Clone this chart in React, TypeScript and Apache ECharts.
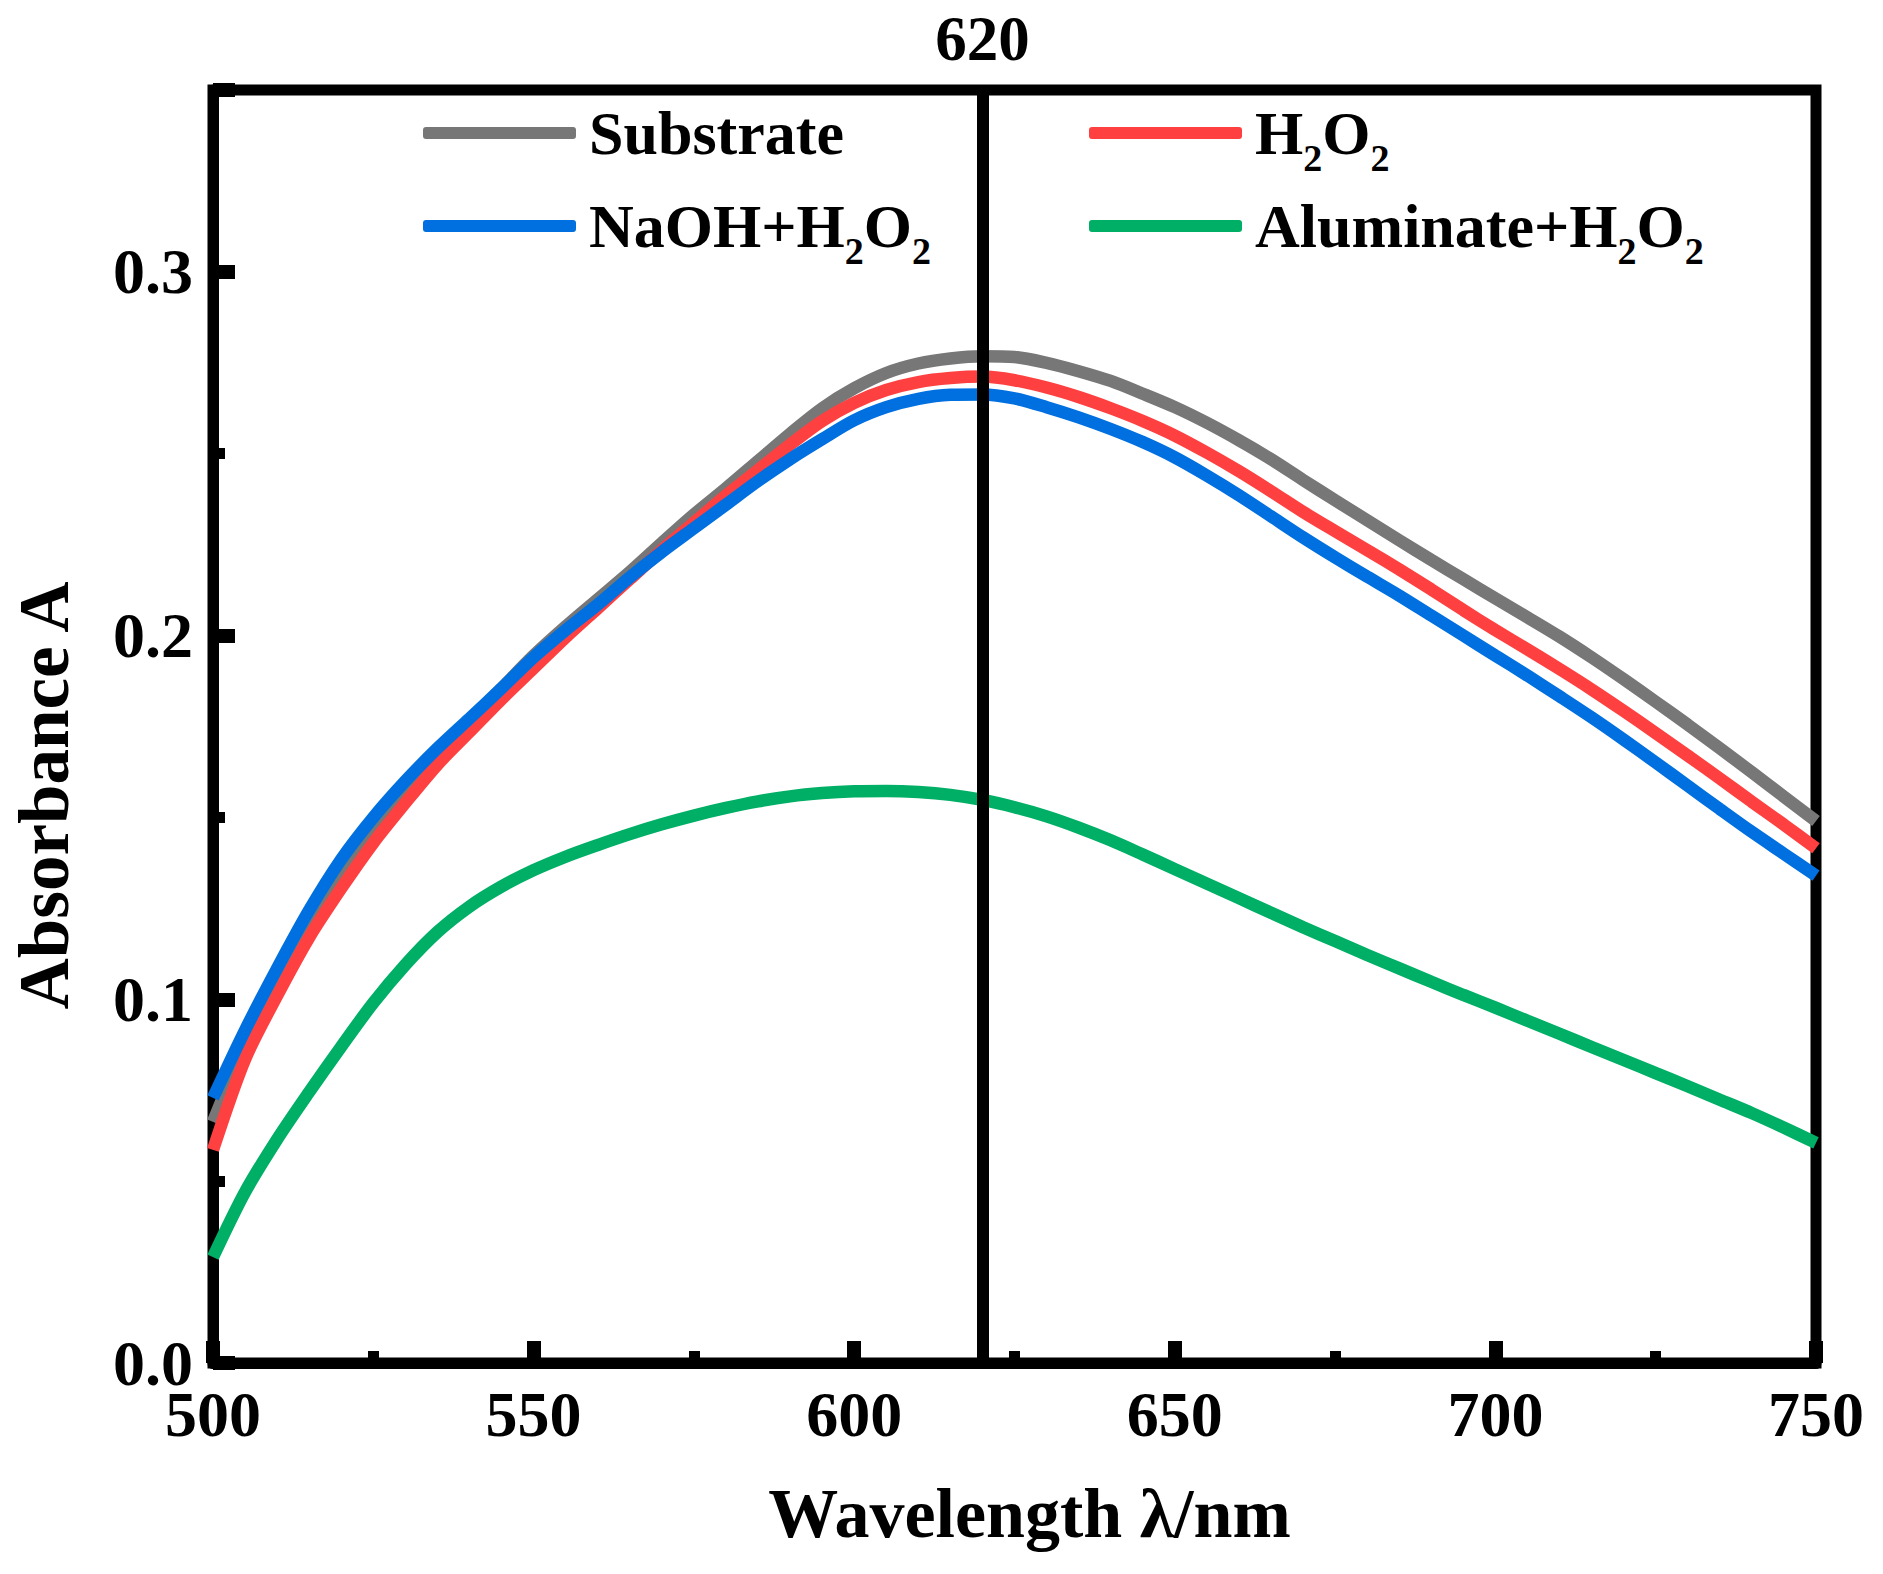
import React, { useEffect, useRef } from "react";
import * as echarts from "echarts";

const WAVELENGTHS = [
  500, 505, 510, 515, 520, 525, 530, 535, 540, 545, 550, 555, 560, 565, 570, 575, 580,
  585, 590, 595, 600, 605, 610, 615, 620, 625, 630, 635, 640, 645, 650, 655, 660, 665,
  670, 675, 680, 685, 690, 695, 700, 705, 710, 715, 720, 725, 730, 735, 740, 745, 750,
];

const SUBSTRATE = [
  0.0663, 0.0875, 0.1055, 0.1215, 0.135, 0.1468, 0.1572, 0.167, 0.1765, 0.1855, 0.1945,
  0.2025, 0.21, 0.2175, 0.2255, 0.2333, 0.2405, 0.248, 0.2555, 0.2625, 0.268, 0.2722,
  0.2748, 0.2762, 0.2768, 0.2766, 0.275, 0.2727, 0.27, 0.2665, 0.2628, 0.2585, 0.2537,
  0.2485, 0.2428, 0.2372, 0.2317, 0.2262, 0.2208, 0.2155, 0.2102, 0.205, 0.1997, 0.194,
  0.188, 0.1818, 0.1755, 0.169, 0.1624, 0.1557, 0.149,
];

const H2O2 = [
  0.0586, 0.0835, 0.101, 0.117, 0.1305, 0.143, 0.154, 0.1645, 0.1735, 0.1825, 0.191,
  0.1995, 0.2075, 0.2155, 0.2235, 0.231, 0.2385, 0.2455, 0.2525, 0.259, 0.264, 0.2675,
  0.2697, 0.2708, 0.2712, 0.2702, 0.2682, 0.2656, 0.2625, 0.259, 0.255, 0.2503, 0.2452,
  0.2397, 0.234, 0.2287, 0.2235, 0.2182, 0.2127, 0.207, 0.2015, 0.1962, 0.1908, 0.1852,
  0.1793, 0.1732, 0.167, 0.1607, 0.1543, 0.148, 0.1415,
];

const NAOH_H2O2 = [
  0.0729, 0.0915, 0.1085, 0.1245, 0.1385, 0.15, 0.16, 0.169, 0.1772, 0.1855, 0.194,
  0.2015, 0.2085, 0.216, 0.223, 0.2295, 0.236, 0.2425, 0.2485, 0.254, 0.2592, 0.2628,
  0.2651, 0.2662, 0.2663, 0.2652, 0.2628, 0.26, 0.2568, 0.2532, 0.249, 0.244, 0.2386,
  0.2328, 0.227, 0.2215, 0.2162, 0.211, 0.2055, 0.2, 0.1945, 0.189, 0.1833, 0.1775,
  0.1714, 0.1651, 0.1587, 0.1523, 0.146, 0.14, 0.134,
];

const ALUMINATE_H2O2 = [
  0.0291, 0.047, 0.0615, 0.0745, 0.087, 0.099, 0.1095, 0.1185, 0.1255, 0.131, 0.1355,
  0.1392, 0.1424, 0.1454, 0.1481, 0.1505, 0.1526, 0.1544, 0.1558, 0.1567, 0.1572, 0.1573,
  0.157, 0.1562, 0.1548, 0.1528, 0.1503, 0.1472, 0.1437, 0.1398, 0.1358, 0.1318, 0.1278,
  0.1238, 0.1198, 0.116, 0.1122, 0.1085, 0.1048, 0.1012, 0.0977, 0.0941, 0.0905, 0.0869,
  0.0833, 0.0797, 0.0761, 0.0724, 0.0687, 0.0647, 0.0605,
];

const SERIES_NAMES = ["Substrate", "H2O2", "NaOH+H2O2", "Aluminate+H2O2"];
const SERIES_VALUES = [SUBSTRATE, H2O2, NAOH_H2O2, ALUMINATE_H2O2];
const COLORS = ["#777777", "#FF4040", "#0070E0", "#00AF66"];
const PEAK_MARK = 620;

const X_MIN = 500;
const X_MAX = 750;
const X_STEP = 50;
const Y_MIN = 0;
const Y_MAX = 0.35;
const Y_STEP = 0.1;
const Y_MINOR_STEP = 0.05;

const FONT = '"Liberation Serif", "Times New Roman", Times, serif';

function pairs(vals: number[]) {
  return WAVELENGTHS.map((w, i) => [w, vals[i]]);
}

export default function App() {
  const ref = useRef<HTMLDivElement>(null);

  useEffect(() => {
    document.body.style.margin = "0";
    const chart = echarts.init(ref.current as HTMLDivElement, null, { renderer: "svg" });

    const legendText = {
      color: "#000",
      fontFamily: FONT,
      fontWeight: "bold",
      fontSize: 62,
      lineHeight: 88,
      padding: [0, 0, 0, 8],
      rich: {
        s: {
          color: "#000",
          fontFamily: FONT,
          fontWeight: "bold",
          fontSize: 38,
          lineHeight: 38,
          verticalAlign: "bottom",
        },
      },
    };
    const fmt = (name: string) => name.replace(/2/g, "{s|2}");

    const legendPlaces = [
      { name: SERIES_NAMES[0], left: 423, top: 89 },
      { name: SERIES_NAMES[2], left: 423, top: 182 },
      { name: SERIES_NAMES[1], left: 1089, top: 89 },
      { name: SERIES_NAMES[3], left: 1089, top: 182 },
    ];

    const tickLabel = {
      color: "#000",
      fontFamily: FONT,
      fontWeight: "bold",
      fontSize: 64,
      lineHeight: 46,
    };

    const option: any = {
      animation: false,
      backgroundColor: "#fff",
      grid: {
        left: 206.5,
        right: 67,
        top: 90,
        bottom: 211,
        show: true,
        borderColor: "#000",
        borderWidth: 11,
        backgroundColor: "transparent",
      },
      legend: legendPlaces.map((p) => ({
        data: [p.name],
        left: p.left,
        top: p.top,
        orient: "horizontal",
        padding: 0,
        itemWidth: 153,
        itemHeight: 12,
        icon: "roundRect",
        selectedMode: false,
        formatter: fmt,
        textStyle: legendText,
      })),
      xAxis: {
        type: "value",
        min: X_MIN,
        max: X_MAX,
        interval: X_STEP,
        axisLine: { show: true, lineStyle: { color: "#000", width: 11 } },
        axisTick: { show: true, inside: true, length: 22, lineStyle: { color: "#000", width: 14 } },
        minorTick: { show: true, splitNumber: 2, length: 12, lineStyle: { color: "#000", width: 11 } },
        splitLine: { show: false },
        axisLabel: { ...tickLabel, margin: 28 },
        name: "Wavelength λ/nm",
        nameLocation: "middle",
        nameGap: 115,
        nameTextStyle: {
          color: "#000",
          fontFamily: FONT,
          fontWeight: "bold",
          fontSize: 70,
          padding: [0, 0, 0, 30],
        },
      },
      yAxis: [
        {
          type: "value",
          min: Y_MIN,
          max: Y_MAX,
          interval: Y_STEP,
          axisLine: { show: true, lineStyle: { color: "#000", width: 11 } },
          axisTick: { show: true, inside: true, length: 22, lineStyle: { color: "#000", width: 14 } },
          splitLine: { show: false },
          axisLabel: {
            ...tickLabel,
            margin: 20,
            formatter: (v: number) =>
              Math.abs(v * 10 - Math.round(v * 10)) < 1e-6 ? v.toFixed(1) : "",
          },
          name: "Absorbance A",
          nameLocation: "middle",
          nameRotate: 90,
          nameGap: 134,
          nameTextStyle: {
            color: "#000",
            fontFamily: FONT,
            fontWeight: "bold",
            fontSize: 71,
            padding: [0, 138, 0, 0],
          },
        },
        {
          type: "value",
          min: Y_MIN,
          max: Y_MAX,
          interval: Y_MINOR_STEP,
          position: "left",
          axisLine: { show: false },
          axisTick: { show: true, inside: true, length: 12, lineStyle: { color: "#000", width: 11 } },
          axisLabel: { show: false },
          splitLine: { show: false },
        },
      ],
      series: SERIES_VALUES.map((vals, i) => ({
        name: SERIES_NAMES[i],
        type: "line",
        data: pairs(vals),
        yAxisIndex: 0,
        showSymbol: false,
        symbol: "none",
        smooth: 0.3,
        lineStyle: { color: COLORS[i], width: 12.5 },
        itemStyle: { color: COLORS[i] },
        emphasis: { disabled: true },
        markLine:
          i === SERIES_VALUES.length - 1
            ? {
                silent: true,
                symbol: ["none", "none"],
                animation: false,
                lineStyle: { color: "#000", width: 12, type: "solid" },
                label: {
                  show: true,
                  position: "end",
                  formatter: String(PEAK_MARK),
                  distance: 20,
                  color: "#000",
                  fontFamily: FONT,
                  fontWeight: "bold",
                  fontSize: 63,
                },
                emphasis: { disabled: true },
                data: [{ xAxis: PEAK_MARK }],
              }
            : undefined,
      })),
    };

    chart.setOption(option);
    return () => chart.dispose();
  }, []);

  return <div ref={ref} style={{ width: 1883, height: 1574 }} />;
}
